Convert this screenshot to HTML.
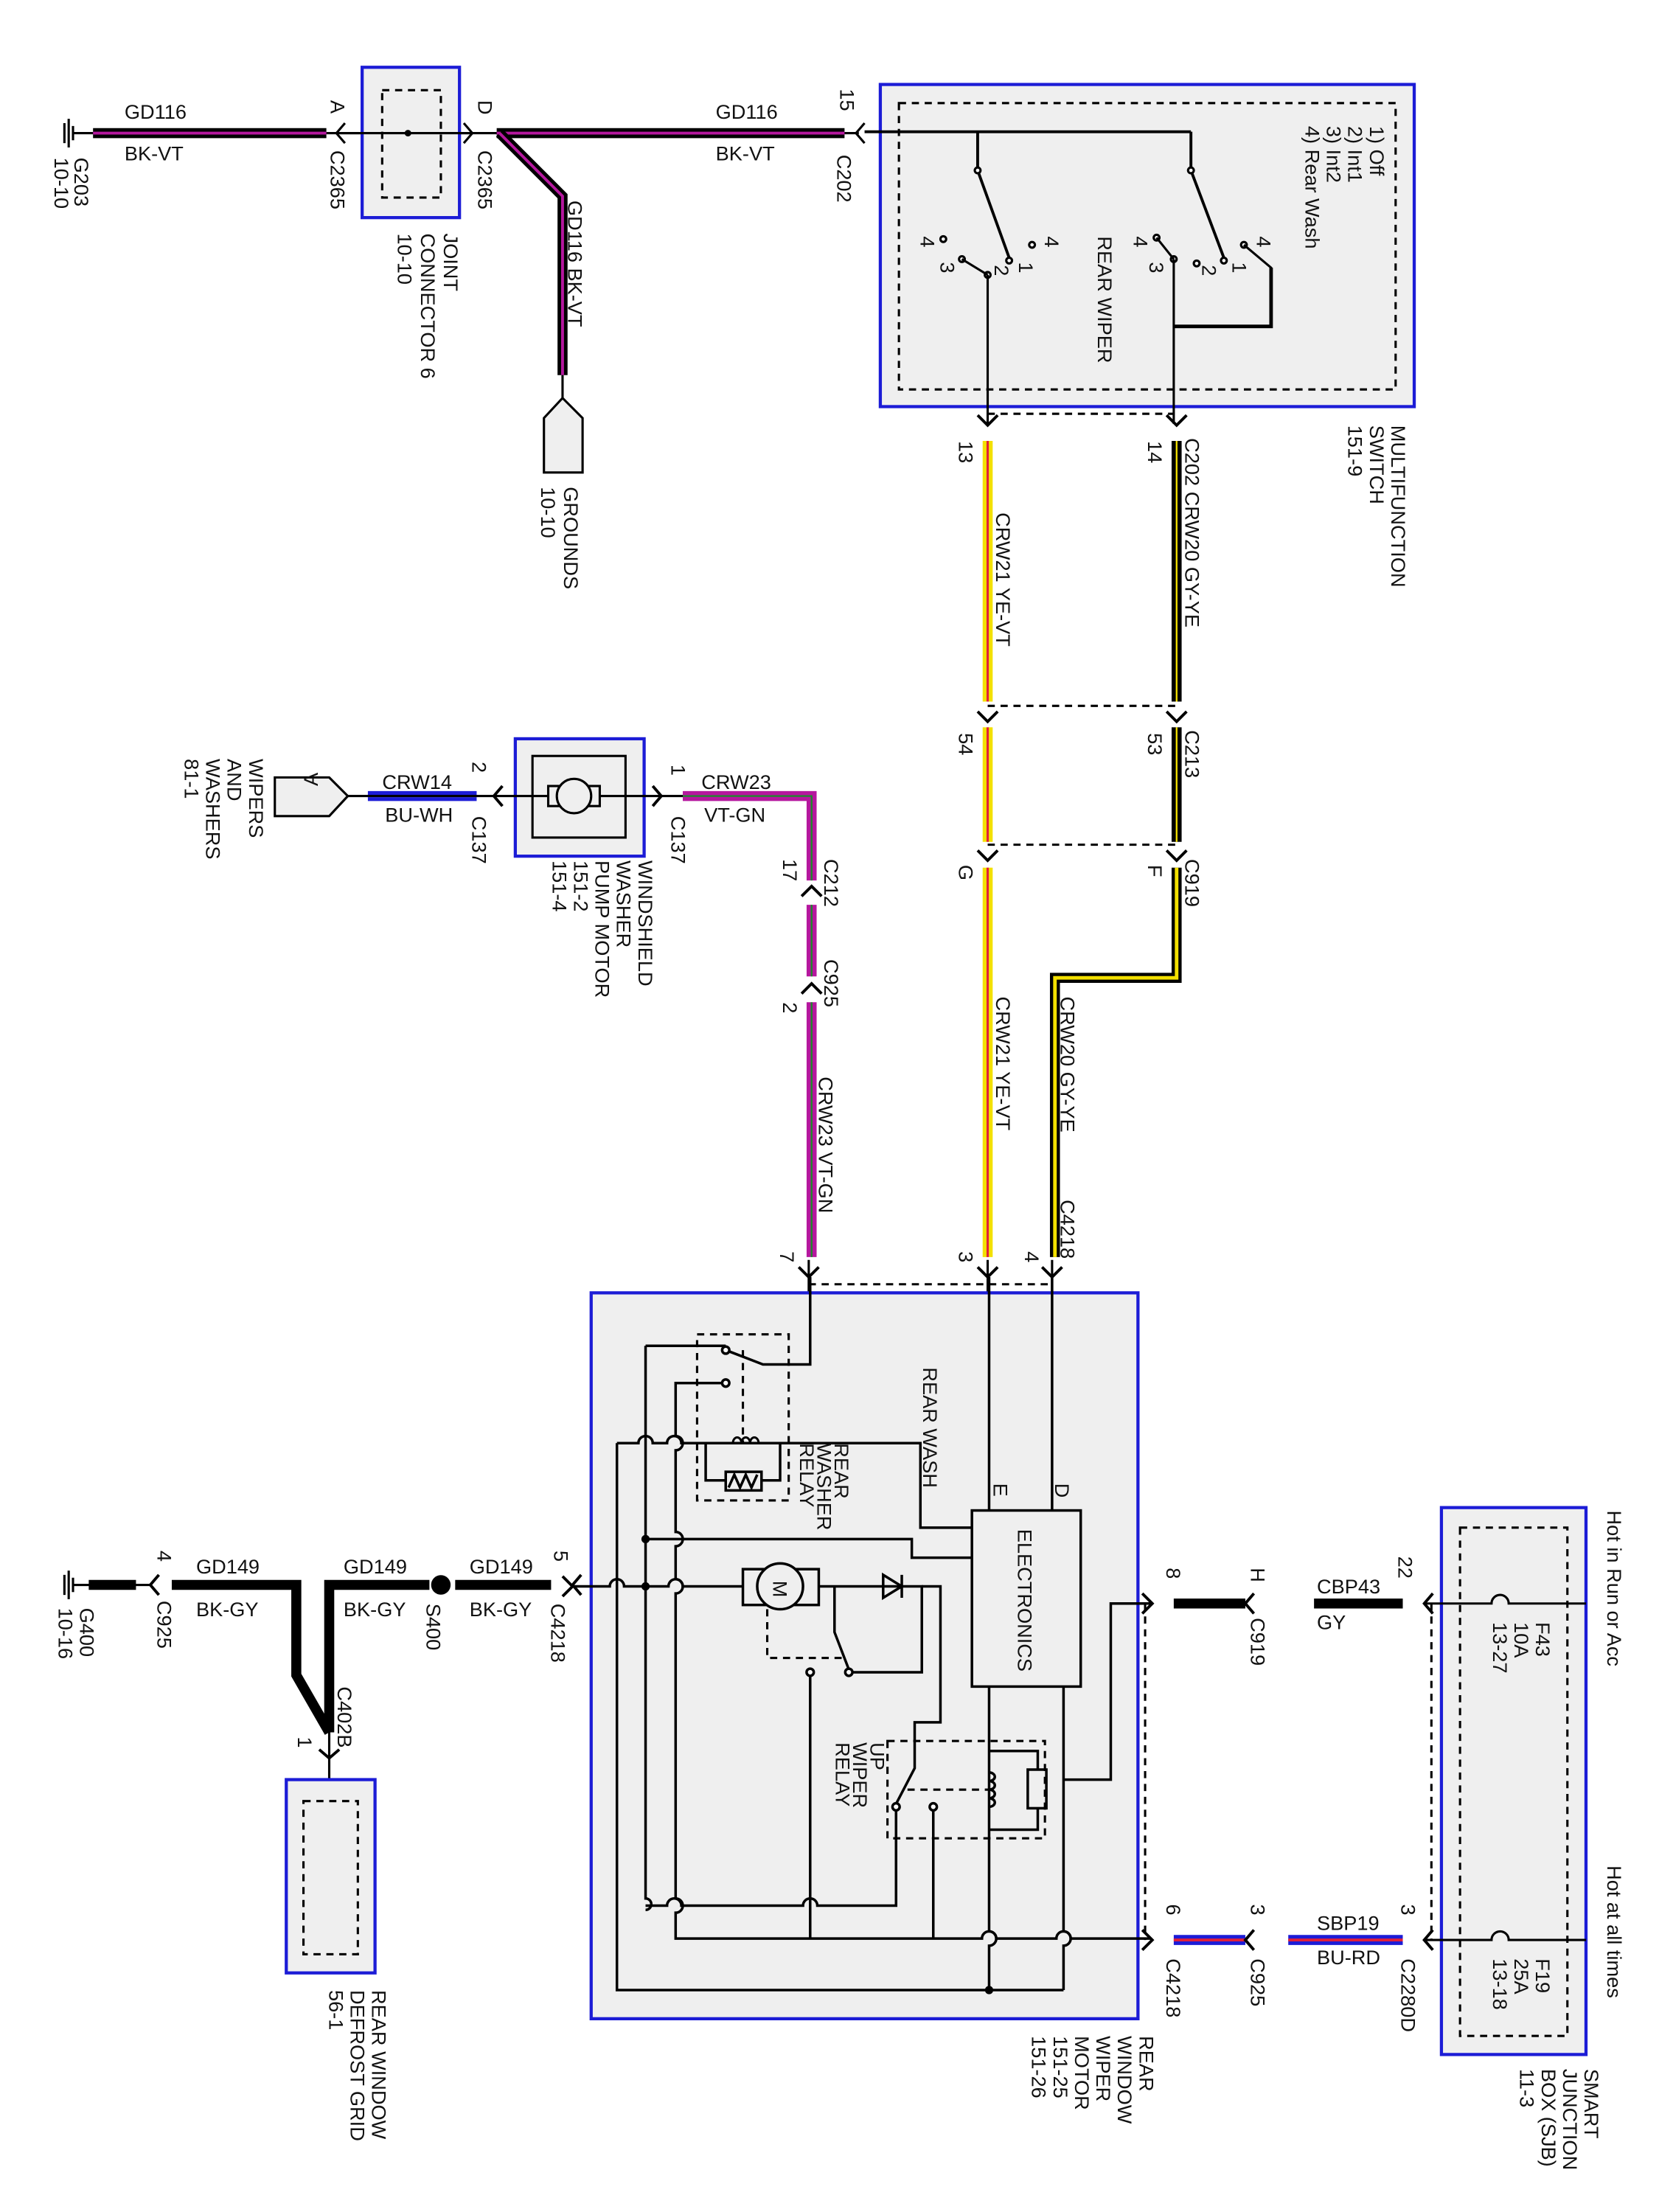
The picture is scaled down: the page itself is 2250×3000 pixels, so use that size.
<!DOCTYPE html>
<html><head><meta charset="utf-8"><style>
html,body{margin:0;padding:0;background:#fff;}
svg{display:block;}
text{font-family:"Liberation Sans",Arial,sans-serif;font-size:14px;fill:#111;}
</style></head><body>
<svg width="2250" height="3000" viewBox="0 0 1159 1545" preserveAspectRatio="none" xmlns="http://www.w3.org/2000/svg">
<rect x="0" y="0" width="1159" height="1545" fill="#fff"/>
<g fill="none" stroke="#000" stroke-width="1.6">
<!-- ===== TOP ROW ===== -->
<!-- ground G203 -->
<path d="M45 86 V100 M48 83 V103 M51 88 V98"/>
<path d="M51 93 H600"/>
<!-- joint connector -->
<rect x="253" y="47" width="68" height="105" fill="#efefef" stroke="#1c1cd6" stroke-width="2.2"/>
<rect x="267" y="63" width="41" height="75" stroke-dasharray="5,4"/>
<path d="M237 93 H330"/>
<circle cx="285" cy="93" r="1.5" fill="#000"/>
<path d="M241 86 L235 93 L241 100"/>
<path d="M324 86 L330 93 L324 100"/>
<path d="M598 86 L604 93 L598 100" transform="rotate(180 601 93)"/>
<!-- thick wires -->
<path d="M65 93 H228" stroke-width="7"/><path d="M65 93 H228" stroke="#b5179e" stroke-width="2"/>
<path d="M347 93 H590" stroke-width="7"/><path d="M347 93 H590" stroke="#b5179e" stroke-width="2"/>
<path d="M349 93 L393 137 V262" stroke-width="7"/><path d="M349 93 L393 137 V262" stroke="#b5179e" stroke-width="2"/>
<path d="M393 262 V278"/>
<path d="M393 278 L407 292 V330 H380 V292 Z" fill="#efefef"/>
<!-- multifunction switch -->
<rect x="615" y="59" width="373" height="225" fill="#efefef" stroke="#1c1cd6" stroke-width="2.2"/>
<rect x="628" y="72" width="347" height="200" stroke-dasharray="5,4"/>
<path d="M604 92 H832 M683 92 V119 M832 92 V119" stroke-width="2"/>
<path d="M683 119 L705 180" stroke-width="2"/>
<path d="M832 119 L855 180" stroke-width="2"/>
<circle cx="683" cy="119" r="2" fill="#fff"/><circle cx="832" cy="119" r="2" fill="#fff"/>
<circle cx="705" cy="182" r="2" fill="#fff"/><circle cx="855" cy="182" r="2" fill="#fff"/>
<circle cx="690" cy="192" r="2" fill="#fff"/><circle cx="836" cy="184" r="2" fill="#fff"/>
<circle cx="672" cy="181" r="2" fill="#fff"/><circle cx="721" cy="171" r="2" fill="#fff"/>
<circle cx="659" cy="167" r="2" fill="#fff"/><circle cx="820" cy="181" r="2" fill="#fff"/>
<circle cx="808" cy="166" r="2" fill="#fff"/><circle cx="869" cy="171" r="2" fill="#fff"/>
<path d="M672 181 L690 192 M808 166 L820 181 M869 171 L888 187 V228 H820"/>
<path d="M888 187 V228 H820" stroke-width="2.5"/>
<path d="M690 192 V296 M820 181 V296"/>
<path d="M690 289 H820" stroke-dasharray="5,4"/>
<path d="M683 290 L690 297 L697 290 M815 290 L822 297 L829 290" stroke-width="2"/>
<!-- C213 / C919 -->
<path d="M690 493 H822 M690 590 H822" stroke-dasharray="5,4"/>
<path d="M683 497 L690 504 L697 497 M815 497 L822 504 L829 497 M683 594 L690 601 L697 594 M815 594 L822 601 L829 594" stroke-width="2"/>
<!-- C4218 top arrows -->
<path d="M558 885 L565 892 L572 885 M683 885 L690 892 L697 885 M728 885 L735 892 L742 885" stroke-width="2"/>
<path d="M565 897 H735" stroke-dasharray="5,4"/>
<path d="M565 880 V904 M690 880 V904 M735 880 V904"/>
<!-- C212 / C925 arrows -->
<path d="M560 626 L567 619 L574 626 M560 694 L567 687 L574 694" stroke-width="2"/>
</g>
<!-- colored wires -->
<g fill="none">
<path d="M690 308 V490 M690 508 V588 M690 606 V878" stroke="#f3e000" stroke-width="7"/>
<path d="M690 308 V490 M690 508 V588 M690 606 V878" stroke="#e0203a" stroke-width="1.6"/>
<path d="M822 308 V490 M822 508 V588 M822 606 V683 H737 V878" stroke="#000" stroke-width="7"/>
<path d="M822 606 V683 H737 V878" stroke="#f3e000" stroke-width="2.5"/>
<path d="M822 308 V490 M822 508 V588" stroke="#f3e000" stroke-width="1.2"/>
<path d="M477 556 H567 V615 M567 632 V682 M567 700 V878" stroke="#b5179e" stroke-width="7"/>
<path d="M477 556 H567 V615 M567 632 V682 M567 700 V878" stroke="#1b8a2a" stroke-width="1.2"/>
<path d="M257 556 H333" stroke="#1c1cd6" stroke-width="7"/><path d="M257 556 H333" stroke="#fff" stroke-width="1.5"/>
<path d="M820 1355 H870 M900 1355 H980" stroke="#1c1cd6" stroke-width="7"/><path d="M820 1355 H870 M900 1355 H980" stroke="#e0203a" stroke-width="2"/>
<path d="M820 1120 H870 M918 1120 H980" stroke="#000" stroke-width="7"/>
</g>
<g fill="none" stroke="#000" stroke-width="1.6">
<!-- washer pump -->
<rect x="360" y="516" width="90" height="82" fill="#efefef" stroke="#1c1cd6" stroke-width="2.2"/>
<rect x="372" y="528" width="65" height="57"/>
<path d="M243 556 H477"/>
<rect x="383" y="549" width="36" height="14" fill="#efefef"/>
<circle cx="401" cy="556" r="12" fill="#efefef"/>
<path d="M351 549 L345 556 L351 563 M456 549 L462 556 L456 563" stroke-width="2"/>
<path d="M192 543 H230 L243 556 L230 570 H192 Z" fill="#efefef"/>
<!-- ===== MOTOR BOX ===== -->
<rect x="413" y="903" width="382" height="507" fill="#efefef" stroke="#1c1cd6" stroke-width="2.2"/>
<g stroke-width="1.8">
<path d="M431 1008 V1390 H743"/>
<path d="M431 1008 H446 A5 5 0 0 1 456 1008 H466 A5 5 0 0 1 476 1008 H643 V1067 H679"/>
<path d="M451 940 H507 M451 940 V1326 A4 4 0 0 1 451 1334"/>
<path d="M451 1331 H466 A5 5 0 0 1 476 1331 H561 A5 5 0 0 1 571 1331 H626 V1262"/>
<path d="M507 966 H472 V1003 A5 5 0 0 1 472 1013 V1070 A5 5 0 0 1 472 1080 V1103 A5 5 0 0 1 472 1113 V1326 A5 5 0 0 1 472 1336 V1354 H686 A5 5 0 0 1 696 1354 H738 A5 5 0 0 1 748 1354 H804"/>
<path d="M451 1075 H637 V1088 H679"/>
<path d="M400 1108 H426 A5 5 0 0 1 436 1108 H467 A5 5 0 0 1 477 1108 H519"/>
<circle cx="451" cy="1108" r="2" fill="#000"/><circle cx="451" cy="1075" r="2" fill="#000"/>
<path d="M572 1108 H644 V1168 H596"/>
<path d="M630 1100 V1116 M630 1108 L617 1100 V1116 Z"/>
<path d="M583 1108 V1140 L593 1166"/>
<circle cx="593" cy="1168" r="2.5" fill="#fff"/>
<circle cx="566" cy="1168" r="2.5" fill="#fff"/>
<path d="M566 1171 V1354"/>
<path d="M644 1108 H657 V1203 H639 V1235 L626 1260"/>
<circle cx="626" cy="1262" r="2.5" fill="#fff"/><circle cx="652" cy="1262" r="2.5" fill="#fff"/>
<path d="M652 1265 V1354"/>
<!-- washer relay -->
<path d="M507 943 L533 953 H566 V892"/>
<circle cx="507" cy="943" r="2.5" fill="#fff"/><circle cx="507" cy="966" r="2.5" fill="#fff"/>
<path d="M493 1008 V1034 H507 M545 1008 V1034 H532"/>
<rect x="507" y="1028" width="25" height="13"/>
<path d="M509 1039 L513 1030 L517 1039 L521 1030 L525 1039 L529 1030"/>
<path d="M512 1008 a3 4 0 0 1 6 0 a3 4 0 0 1 6 0 a3 4 0 0 1 6 0" stroke-width="1.5"/>
<!-- electronics -->
<rect x="679" y="1055" width="76" height="123"/>
<path d="M691 892 V1055 M735 892 V1055"/>
<path d="M691 1178 V1349 A5 5 0 0 1 691 1359 V1390"/>
<path d="M743 1178 V1349 A5 5 0 0 1 743 1359 V1390"/>
<path d="M743 1243 H776 V1120 H804"/>
<circle cx="691" cy="1390" r="2" fill="#000"/>
<!-- up wiper relay -->
<path d="M691 1223 H725 V1236 M691 1278 H725 V1263"/>
<rect x="718" y="1236" width="13" height="27"/>
<path d="M691 1238 a4 3 0 0 1 0 6 a4 3 0 0 1 0 6 a4 3 0 0 1 0 6 a4 3 0 0 1 0 6"/>
<!-- motor -->
<rect x="519" y="1096" width="53" height="25" fill="#efefef"/>
<circle cx="545" cy="1108" r="16" fill="#efefef"/>
</g>
<g stroke-dasharray="5,4" stroke-width="1.6">
<rect x="487" y="932" width="64" height="116"/>
<path d="M519 943 V1008"/>
<path d="M536 1124 V1158 H590"/>
<rect x="620" y="1216" width="110" height="68"/>
<path d="M634 1250 H691"/>
<path d="M800 1120 V1355 M1000 1120 V1355"/>
</g>
<path d="M798 1113 L805 1120 L798 1127 M798 1348 L805 1355 L798 1362 M393 1101 L400 1108 L393 1115" transform="" stroke-width="2"/>
<!-- right side arrows -->
<path d="M876 1113 L870 1120 L876 1127 M876 1348 L870 1355 L876 1362 M1001 1113 L995 1120 L1001 1127 M1001 1348 L995 1355 L1001 1362" stroke-width="2"/>
<!-- SJB -->
<rect x="1007" y="1053" width="101" height="382" fill="#efefef" stroke="#1c1cd6" stroke-width="2.2"/>
<rect x="1020" y="1067" width="75" height="355" stroke-dasharray="5,4"/>
<path d="M995 1120 H1042 A6 6 0 0 1 1054 1120 H1108"/>
<path d="M995 1355 H1042 A6 6 0 0 1 1054 1355 H1108"/>
<!-- bottom-left grounds -->
<path d="M45 1100 V1114 M48 1097 V1117 M51 1102 V1112 M51 1107 H105"/>
<path d="M111 1100 L105 1107 L111 1114 M406 1100 L400 1107 L406 1114" stroke-width="2"/>
<path d="M62 1107 H95 M120 1107 H207 V1170 L230 1210 M230 1210 V1107 H300 M318 1107 H385" stroke-width="7"/>
<circle cx="308" cy="1107" r="6" fill="#000"/>
<path d="M230 1210 V1243"/>
<path d="M223 1222 L230 1228 L237 1222" stroke-width="2"/>
<rect x="200" y="1243" width="62" height="135" fill="#efefef" stroke="#1c1cd6" stroke-width="2.2"/>
<rect x="212" y="1258" width="38" height="107" stroke-dasharray="5,4"/>
</g>
<!-- ===== TEXT ===== -->
<g>
<text x="87" y="83">GD116</text><text x="87" y="112">BK-VT</text>
<text x="500" y="83">GD116</text><text x="500" y="112">BK-VT</text>
<text x="267" y="551">CRW14</text><text x="269" y="574">BU-WH</text>
<text x="490" y="551">CRW23</text><text x="492" y="574">VT-GN</text>
<text x="920" y="1113">CBP43</text><text x="920" y="1138">GY</text>
<text x="920" y="1348">SBP19</text><text x="920" y="1372">BU-RD</text>
<text x="137" y="1099">GD149</text><text x="137" y="1129">BK-GY</text>
<text x="240" y="1099">GD149</text><text x="240" y="1129">BK-GY</text>
<text x="328" y="1099">GD149</text><text x="328" y="1129">BK-GY</text>
</g>
<g font-size="14">
<text transform="translate(52,110) rotate(90)">G203</text>
<text transform="translate(38,110) rotate(90)">10-10</text>
<text transform="translate(231,70) rotate(90)">A</text>
<text transform="translate(231,105) rotate(90)">C2365</text>
<text transform="translate(334,70) rotate(90)">D</text>
<text transform="translate(334,105) rotate(90)">C2365</text>
<text transform="translate(310,163) rotate(90)">JOINT</text>
<text transform="translate(294,163) rotate(90)">CONNECTOR 6</text>
<text transform="translate(278,163) rotate(90)">10-10</text>
<text transform="translate(397,140) rotate(90)">GD116   BK-VT</text>
<text transform="translate(394,340) rotate(90)">GROUNDS</text>
<text transform="translate(378,340) rotate(90)">10-10</text>
<text transform="translate(587,62) rotate(90)">15</text>
<text transform="translate(585,108) rotate(90)">C202</text>
<text transform="translate(957,88) rotate(90)">1) Off</text>
<text transform="translate(942,88) rotate(90)">2) Int1</text>
<text transform="translate(927,88) rotate(90)">3) Int2</text>
<text transform="translate(912,88) rotate(90)">4) Rear Wash</text>
<text transform="translate(767,165) rotate(90)">REAR WIPER</text>
<text transform="translate(730,165) rotate(90)" font-size="12">4</text>
<text transform="translate(712,183) rotate(90)" font-size="12">1</text>
<text transform="translate(695,185) rotate(90)" font-size="12">2</text>
<text transform="translate(657,183) rotate(90)" font-size="12">3</text>
<text transform="translate(643,165) rotate(90)" font-size="12">4</text>
<text transform="translate(878,165) rotate(90)" font-size="12">4</text>
<text transform="translate(861,183) rotate(90)" font-size="12">1</text>
<text transform="translate(840,185) rotate(90)" font-size="12">2</text>
<text transform="translate(803,183) rotate(90)" font-size="12">3</text>
<text transform="translate(792,165) rotate(90)" font-size="12">4</text>
<text transform="translate(972,297) rotate(90)">MULTIFUNCTION</text>
<text transform="translate(957,297) rotate(90)">SWITCH</text>
<text transform="translate(942,297) rotate(90)">151-9</text>
<text transform="translate(670,308) rotate(90)">13</text>
<text transform="translate(802,308) rotate(90)">14</text>
<text transform="translate(828,306) rotate(90)">C202   CRW20   GY-YE</text>
<text transform="translate(696,358) rotate(90)">CRW21   YE-VT</text>
<text transform="translate(670,512) rotate(90)">54</text>
<text transform="translate(802,512) rotate(90)">53</text>
<text transform="translate(828,510) rotate(90)">C213</text>
<text transform="translate(670,604) rotate(90)">G</text>
<text transform="translate(802,604) rotate(90)">F</text>
<text transform="translate(828,600) rotate(90)">C919</text>
<text transform="translate(741,696) rotate(90)">CRW20   GY-YE</text>
<text transform="translate(696,696) rotate(90)">CRW21   YE-VT</text>
<text transform="translate(741,838) rotate(90)">C4218</text>
<text transform="translate(545,874) rotate(90)">7</text>
<text transform="translate(670,874) rotate(90)">3</text>
<text transform="translate(716,874) rotate(90)">4</text>
<text transform="translate(572,752) rotate(90)">CRW23   VT-GN</text>
<text transform="translate(547,600) rotate(90)">17</text>
<text transform="translate(576,600) rotate(90)">C212</text>
<text transform="translate(576,670) rotate(90)">C925</text>
<text transform="translate(547,700) rotate(90)">2</text>
<text transform="translate(469,534) rotate(90)">1</text>
<text transform="translate(469,570) rotate(90)">C137</text>
<text transform="translate(330,532) rotate(90)">2</text>
<text transform="translate(330,570) rotate(90)">C137</text>
<text transform="translate(446,601) rotate(90)">WINDSHIELD</text>
<text transform="translate(431,601) rotate(90)">WASHER</text>
<text transform="translate(416,601) rotate(90)">PUMP MOTOR</text>
<text transform="translate(401,601) rotate(90)">151-2</text>
<text transform="translate(386,601) rotate(90)">151-4</text>
<text transform="translate(222,549) rotate(-90)" font-size="11">A</text>
<text transform="translate(174,530) rotate(90)">WIPERS</text>
<text transform="translate(159,530) rotate(90)">AND</text>
<text transform="translate(144,530) rotate(90)">WASHERS</text>
<text transform="translate(129,530) rotate(90)">81-1</text>
<text transform="translate(645,955) rotate(90)" font-size="11">REAR WASH</text>
<text transform="translate(583,1008) rotate(90)" font-size="11">REAR</text>
<text transform="translate(571,1008) rotate(90)" font-size="11">WASHER</text>
<text transform="translate(559,1008) rotate(90)" font-size="11">RELAY</text>
<text transform="translate(608,1217) rotate(90)" font-size="11">UP</text>
<text transform="translate(596,1217) rotate(90)" font-size="11">WIPER</text>
<text transform="translate(584,1217) rotate(90)" font-size="11">RELAY</text>
<text transform="translate(711,1068) rotate(90)" font-size="11">ELECTRONICS</text>
<text transform="translate(694,1036) rotate(90)" font-size="11">E</text>
<text transform="translate(737,1036) rotate(90)" font-size="11">D</text>
<text transform="translate(540,1104) rotate(90)" font-size="9">M</text>
<text transform="translate(796,1422) rotate(90)">REAR</text>
<text transform="translate(781,1422) rotate(90)">WINDOW</text>
<text transform="translate(766,1422) rotate(90)">WIPER</text>
<text transform="translate(751,1422) rotate(90)">MOTOR</text>
<text transform="translate(736,1422) rotate(90)">151-25</text>
<text transform="translate(721,1422) rotate(90)">151-26</text>
<text transform="translate(815,1095) rotate(90)">8</text>
<text transform="translate(874,1095) rotate(90)">H</text>
<text transform="translate(874,1130) rotate(90)">C919</text>
<text transform="translate(977,1087) rotate(90)">22</text>
<text transform="translate(1073,1133) rotate(90)">F43</text>
<text transform="translate(1058,1133) rotate(90)">10A</text>
<text transform="translate(1043,1133) rotate(90)">13-27</text>
<text transform="translate(1123,1055) rotate(90)">Hot in Run or Acc</text>
<text transform="translate(1123,1303) rotate(90)">Hot at all times</text>
<text transform="translate(1073,1368) rotate(90)">F19</text>
<text transform="translate(1058,1368) rotate(90)">25A</text>
<text transform="translate(1043,1368) rotate(90)">13-18</text>
<text transform="translate(1107,1445) rotate(90)">SMART</text>
<text transform="translate(1092,1445) rotate(90)">JUNCTION</text>
<text transform="translate(1077,1445) rotate(90)">BOX (SJB)</text>
<text transform="translate(1062,1445) rotate(90)">11-3</text>
<text transform="translate(815,1330) rotate(90)">6</text>
<text transform="translate(815,1368) rotate(90)">C4218</text>
<text transform="translate(874,1330) rotate(90)">3</text>
<text transform="translate(874,1368) rotate(90)">C925</text>
<text transform="translate(979,1330) rotate(90)">3</text>
<text transform="translate(979,1368) rotate(90)">C2280D</text>
<text transform="translate(387,1083) rotate(90)">5</text>
<text transform="translate(385,1120) rotate(90)">C4218</text>
<text transform="translate(298,1120) rotate(90)">S400</text>
<text transform="translate(110,1083) rotate(90)">4</text>
<text transform="translate(110,1118) rotate(90)">C925</text>
<text transform="translate(56,1123) rotate(90)">G400</text>
<text transform="translate(41,1123) rotate(90)">10-16</text>
<text transform="translate(236,1178) rotate(90)">C402B</text>
<text transform="translate(208,1213) rotate(90)">1</text>
<text transform="translate(260,1390) rotate(90)">REAR WINDOW</text>
<text transform="translate(245,1390) rotate(90)">DEFROST GRID</text>
<text transform="translate(230,1390) rotate(90)">56-1</text>
</g>
</svg>
</body></html>
